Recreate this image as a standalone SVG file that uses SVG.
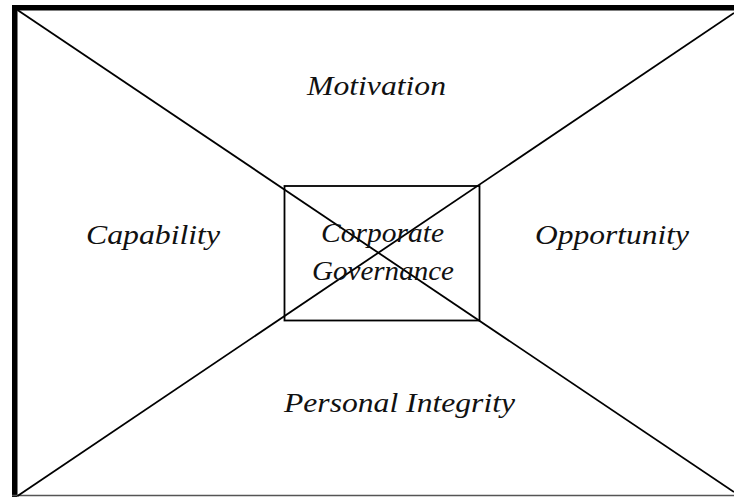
<svg xmlns="http://www.w3.org/2000/svg" width="734" height="497" viewBox="0 0 734 497">
  <style>
    .lbl { font-family: "Liberation Serif", "Times New Roman", serif; font-style: italic; font-size: 27px; fill: #111; }
    .thin { stroke: #000; stroke-width: 1.8; fill: none; }
  </style>
  <rect x="0" y="0" width="734" height="497" fill="#fff"/>

  <!-- outer frame: heavy top and left edges, light bottom edge -->
  <g id="frame">
    <rect x="12" y="5" width="722" height="5.5" fill="#000"/>
    <rect x="12" y="5" width="5.5" height="492" fill="#000"/>
    <line x1="12" y1="495.5" x2="734" y2="495.5" stroke="#555" stroke-width="1.5"/>
  </g>

  <!-- the two crossing diagonals -->
  <g id="connectors">
    <line class="thin" x1="17.5" y1="10" x2="734" y2="492"/>
    <line class="thin" x1="17.5" y1="496" x2="734" y2="13"/>
  </g>

  <g id="motivation">
    <text class="lbl" x="307" y="95" textLength="139" lengthAdjust="spacingAndGlyphs">Motivation</text>
  </g>
  <g id="capability">
    <text class="lbl" x="86" y="244" textLength="134" lengthAdjust="spacingAndGlyphs">Capability</text>
  </g>
  <g id="opportunity">
    <text class="lbl" x="535" y="244" textLength="154" lengthAdjust="spacingAndGlyphs">Opportunity</text>
  </g>
  <g id="personal-integrity">
    <text class="lbl" x="284" y="412" textLength="231" lengthAdjust="spacingAndGlyphs">Personal Integrity</text>
  </g>
  <g id="corporate-governance">
    <rect class="thin" x="284.5" y="186" width="195" height="134.5" stroke-width="1.3"/>
    <text class="lbl" x="321" y="242" textLength="123" lengthAdjust="spacingAndGlyphs">Corporate</text>
    <text class="lbl" x="312" y="280" textLength="142" lengthAdjust="spacingAndGlyphs">Governance</text>
  </g>
</svg>
